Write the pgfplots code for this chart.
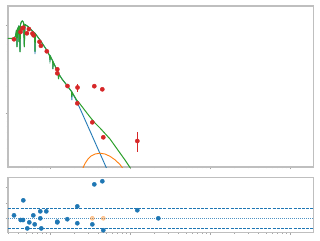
\documentclass[border=0pt]{standalone}
\usepackage{pgfplots}
\pgfplotsset{compat=1.18}
\definecolor{cA}{RGB}{31,119,180}
\definecolor{cB}{RGB}{255,127,14}
\definecolor{cC}{RGB}{44,160,44}
\definecolor{cD}{RGB}{214,39,40}
\begin{document}
\begin{tikzpicture}
\path[use as bounding box] (0,0) rectangle (320pt,240pt);
\begin{axis}[scale only axis, width=305.5pt, height=161pt, at={(8pt,73pt)}, anchor=south west,
  xmode=log, ymode=log, xmin=0.2985, xmax=1967, ymin=0.02434, ymax=1.644,
  xtick={1,10,100,1000}, ytick={0.1,1},
  minor xtick={0.3,0.4,0.5,0.6,0.7,0.8,0.9,2,3,4,5,6,7,8,9,20,30,40,50,60,70,80,90,200,300,400,500,600,700,800,900},
  minor ytick={0.03,0.04,0.05,0.06,0.07,0.08,0.09,0.2,0.3,0.4,0.5,0.6,0.7,0.8,0.9},
  axis line style={gray!50,line width=1.2pt}, tick style={gray!70,line width=0.6pt},
  major tick length=2.5pt, minor tick length=1.5pt, tick align=outside, tick pos=left,
  xticklabels={}, yticklabels={}]
% stellar model (blue)
\addplot[cA, line width=0.9pt] coordinates {
(0.2985,0.7025) (0.3548,0.7025) (0.3704,0.7499) (0.3813,0.8773) (0.3868,0.5623) (0.3924,0.9006)
(0.4038,0.9490) (0.4097,0.6409) (0.4157,0.9742) (0.4217,0.4933) (0.4279,1.0132) (0.4403,1.0959)
(0.4530,1.1103) (0.4663,1.0676) (0.4771,0.5623) (0.4870,1.0132) (0.5353,0.9565) (0.5957,0.8660)
(0.6400,0.8112) (0.6494,0.4683) (0.6588,0.7902) (0.7499,0.6754) (0.9095,0.5199) (0.9857,0.4501)
(1.0,0.4002) (1.0145,0.4385) (1.0808,0.3899) (1.0870,0.3162) (1.0965,0.3799) (1.2701,0.2848)
(1.2774,0.2433) (1.2882,0.2774) (1.4125,0.2433) (1.6171,0.2080) (1.8568,0.1755) (1.8729,0.1405)
(1.8946,0.1710) (1.9953,0.1560) (2.1752,0.1334) (2.3714,0.1124) (3.1623,0.06245) (4.2170,0.03465)
(5.0119,0.02434) (5.6234,0.01924)};
% excess (orange)
\addplot[cB, line width=0.9pt] coordinates {
(2.5119,0.02250) (2.7384,0.02667) (2.9854,0.03000) (3.2546,0.03245) (3.6517,0.03420) (4.2170,0.03493)
(4.8697,0.03420) (5.6234,0.03220) (6.4938,0.02939) (7.4989,0.02598) (8.4140,0.02250)};
% total (green)
\addplot[cC, line width=1pt] coordinates {
(0.2985,0.7025) (0.3548,0.7025) (0.3704,0.7499) (0.3813,0.8773) (0.3868,0.5623) (0.3924,0.9006)
(0.4038,0.9490) (0.4097,0.6409) (0.4157,0.9742) (0.4217,0.4933) (0.4279,1.0132) (0.4403,1.0959)
(0.4530,1.1103) (0.4663,1.0676) (0.4771,0.5623) (0.4870,1.0132) (0.5353,0.9565) (0.5957,0.8660)
(0.6400,0.8112) (0.6494,0.4998) (0.6588,0.7902) (0.7499,0.6754) (0.9095,0.5199) (0.9857,0.4501)
(1.0,0.4002) (1.0145,0.4385) (1.0808,0.3899) (1.0870,0.3162) (1.0965,0.3799) (1.2701,0.2848)
(1.2774,0.2433) (1.2882,0.2774) (1.4125,0.2433) (1.6171,0.2080) (1.8568,0.1755) (1.8729,0.1520)
(1.8946,0.1710) (2.1571,0.1405) (2.3714,0.1266) (2.7384,0.1067) (3.1623,0.09006) (3.6517,0.07696)
(4.2170,0.06754) (4.8697,0.05850) (5.6234,0.05066) (6.4938,0.04217) (7.4989,0.03511) (8.6596,0.02923)
(10,0.02402) (11.22,0.02026)};
% photometry (red)
\addplot[only marks, mark=*, mark size=2.1pt, color=cD,
  error bars/.cd, y dir=both, y explicit, error mark=none,
  error bar style={cD, line width=0.9pt}]
  table[x=x, y=y, y error=e] {
x y e
0.3548 0.6881 0.02
0.4277 0.8325 0.025
0.4530 0.9173 0.027
0.4636 0.9318 0.027
0.5142 0.8048 0.024
0.5446 0.8983 0.027
0.6026 0.8005 0.024
0.6237 0.7637 0.023
0.7393 0.6444 0.019
0.7697 0.5802 0.017
0.9120 0.5025 0.015
1.234 0.3138 0.009
1.234 0.2826 0.008
1.654 0.2026 0.006
2.207 0.1949 0.02
2.194 0.1289 0.004
3.380 0.07839 0.002
3.579 0.2016 0.006
4.506 0.1859 0.005
4.637 0.05294 0.0015
12.34 0.04805 0.012
};
\end{axis}
\begin{axis}[scale only axis, width=305.5pt, height=55.1pt, at={(8pt,7.5pt)}, anchor=south west,
  xmode=log, xmin=0.2985, xmax=1967, ymin=-0.916, ymax=2.639, ytick={0,1,2},
  xtick={1,10,100,1000},
  minor xtick={0.3,0.4,0.5,0.6,0.7,0.8,0.9,2,3,4,5,6,7,8,9,20,30,40,50,60,70,80,90,200,300,400,500,600,700,800,900},
  axis line style={gray!50,line width=1.2pt}, tick style={gray!70,line width=0.6pt},
  major tick length=2.5pt, minor tick length=1.5pt, tick align=outside, tick pos=left,
  xticklabels={}, yticklabels={}]
\addplot[cA, line width=0.8pt, dash pattern=on 3pt off 1.2pt] coordinates {(0.2985,0.62) (1967,0.62)};
\addplot[cA, line width=0.8pt, dash pattern=on 3pt off 1.2pt] coordinates {(0.2985,-0.62) (1967,-0.62)};
\addplot[cA!80, line width=0.8pt, dash pattern=on 0.8pt off 1.2pt] coordinates {(0.2985,0) (1967,0)};
\addplot[only marks, mark=*, mark size=2.1pt, color=cB, opacity=0.4] coordinates {(3.380,0) (4.637,0)};
\addplot[only marks, mark=*, mark size=2.1pt, color=cA] coordinates {
(0.3548,0.19) (0.4302,-0.11) (0.4597,-0.11) (0.4636,1.16) (0.5202,-0.65) (0.5509,-0.26)
(0.6183,0.19) (0.6437,-0.39) (0.7563,0.45) (0.7563,0.0) (0.7783,-0.65) (0.8990,0.45)
(1.234,-0.22) (1.234,-0.26) (1.6454,-0.06) (2.194,0.77) (2.194,-0.32) (3.380,-0.39)
(3.579,2.19) (4.506,2.39) (4.637,-0.77) (12.34,0.52) (22.58,0.0)};
\end{axis}
\end{tikzpicture}
\end{document}
